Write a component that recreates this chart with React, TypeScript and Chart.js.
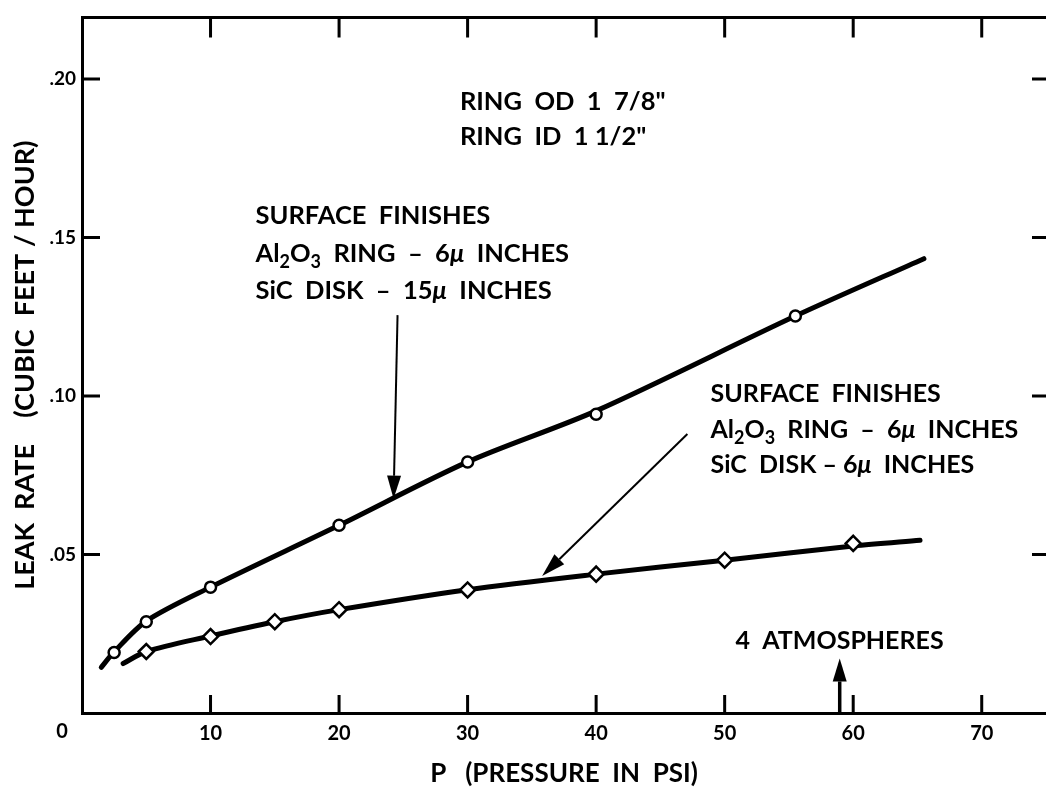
import React, { useEffect, useRef } from 'react';
import { Chart, registerables } from 'chart.js';

Chart.register(...registerables);

// ---- data ----
const pressureTicks = [10, 20, 30, 40, 50, 60, 70];
const pressureTickLabels = ['10', '20', '30', '40', '50', '60', '70'];
const leakTicks = [0.05, 0.1, 0.15, 0.2];
const leakTickLabels = ['.05', '.10', '.15', '.20'];

// Al2O3 ring 6µ / SiC disk 15µ  (circles) — measured points
const circlePressure = [2.5, 5, 10, 20, 30, 40, 55.5];
const circleLeak = [0.0191, 0.0288, 0.0397, 0.0592, 0.0792, 0.0942, 0.1252];
// hand-faired curve drawn through them
const circleCurvePressure = [1.5, 2.5, 5, 10, 20, 30, 40, 55.5, 65.5];
const circleCurveLeak = [0.0144, 0.0193, 0.029, 0.0397, 0.0592, 0.0792, 0.0953, 0.1252, 0.1433];

// Al2O3 ring 6µ / SiC disk 6µ  (diamonds) — measured points
const diamondPressure = [5, 10, 15, 20, 30, 40, 50, 60];
const diamondLeak = [0.0194, 0.0241, 0.0288, 0.0326, 0.0388, 0.0438, 0.0482, 0.0535];
// hand-faired curve
const diamondCurvePressure = [3.2, 5, 10, 15, 20, 30, 40, 50, 60, 65.2];
const diamondCurveLeak = [0.0156, 0.0194, 0.0243, 0.0288, 0.0326, 0.0389, 0.0438, 0.0482, 0.0527, 0.0545];

const FONT = 'Lato, "DejaVu Sans", sans-serif';

type Seg = { t: string; sub?: boolean; italic?: boolean };

const ringText: Seg[][] = [
  [{ t: 'RING  OD  1  7/8"' }],
  [{ t: 'RING  ID  1 1/2"' }],
];
const leftNote: Seg[][] = [
  [{ t: 'SURFACE  FINISHES' }],
  [{ t: 'Al' }, { t: '2', sub: true }, { t: 'O' }, { t: '3', sub: true }, { t: '  RING  –  6' }, { t: 'μ', italic: true }, { t: '  INCHES' }],
  [{ t: 'SiC  DISK  –  15' }, { t: 'μ', italic: true }, { t: '  INCHES' }],
];
const rightNote: Seg[][] = [
  [{ t: 'SURFACE  FINISHES' }],
  [{ t: 'Al' }, { t: '2', sub: true }, { t: 'O' }, { t: '3', sub: true }, { t: '  RING  –  6' }, { t: 'μ', italic: true }, { t: '  INCHES' }],
  [{ t: 'SiC  DISK – 6' }, { t: 'μ', italic: true }, { t: '  INCHES' }],
];
const atmText: Seg[][] = [[{ t: '4  ATMOSPHERES' }]];

function drawRich(ctx: CanvasRenderingContext2D, x: number, y: number, segs: Seg[], size: number) {
  let cx = x;
  for (const s of segs) {
    const fs = s.sub ? Math.round(size * 0.72) : size;
    ctx.font = `${s.italic ? 'italic ' : ''}bold ${fs}px ${FONT}`;
    ctx.textBaseline = 'middle';
    ctx.textAlign = 'left';
    ctx.fillText(s.t, cx, s.sub ? y + size * 0.35 : y);
    cx += ctx.measureText(s.t).width;
  }
}

function drawArrow(ctx: CanvasRenderingContext2D, x1: number, y1: number, x2: number, y2: number, lw: number, hl: number, hw: number) {
  const ang = Math.atan2(y2 - y1, x2 - x1);
  const bx = x2 - Math.cos(ang) * hl;
  const by = y2 - Math.sin(ang) * hl;
  ctx.lineWidth = lw;
  ctx.beginPath();
  ctx.moveTo(x1, y1);
  ctx.lineTo(bx, by);
  ctx.stroke();
  ctx.beginPath();
  ctx.moveTo(x2, y2);
  ctx.lineTo(bx + Math.sin(ang) * hw, by - Math.cos(ang) * hw);
  ctx.lineTo(bx - Math.sin(ang) * hw, by + Math.cos(ang) * hw);
  ctx.closePath();
  ctx.fill();
}

const decorPlugin = {
  id: 'decor',
  afterDraw(chart: any) {
    const { ctx, chartArea, scales } = chart;
    const xs = scales.x;
    const ys = scales.y;
    const X = (v: number) => xs.getPixelForValue(v);
    const Y = (v: number) => ys.getPixelForValue(v);
    ctx.save();
    ctx.strokeStyle = '#000';
    ctx.fillStyle = '#000';
    ctx.lineCap = 'butt';
    // top frame line
    ctx.lineWidth = 3;
    ctx.beginPath();
    ctx.moveTo(chartArea.left - 1, chartArea.top);
    ctx.lineTo(chartArea.right, chartArea.top);
    ctx.stroke();
    // inward tick marks on four sides
    for (const v of pressureTicks) {
      const px = X(v);
      ctx.beginPath();
      ctx.moveTo(px, chartArea.bottom);
      ctx.lineTo(px, chartArea.bottom - 18);
      ctx.moveTo(px, chartArea.top);
      ctx.lineTo(px, chartArea.top + 20);
      ctx.stroke();
    }
    for (const v of leakTicks) {
      const py = Y(v);
      ctx.beginPath();
      ctx.moveTo(chartArea.left, py);
      ctx.lineTo(chartArea.left + 18, py);
      ctx.moveTo(chartArea.right, py);
      ctx.lineTo(chartArea.right - 14, py);
      ctx.stroke();
    }
    // origin label
    ctx.font = `bold 20px ${FONT}`;
    ctx.textAlign = 'center';
    ctx.textBaseline = 'middle';
    ctx.fillText('0', chartArea.left - 20, chartArea.bottom + 19);

    // notes
    ringText.forEach((l, i) => drawRich(ctx, X(29.4), Y(0.1928) + i * 35, l, 25.5));
    leftNote.forEach((l, i) => drawRich(ctx, X(13.5), Y(0.1568) + i * 37.5, l, 25.5));
    rightNote.forEach((l, i) => drawRich(ctx, X(48.9), Y(0.1005) + i * 35.5, l, 25));
    atmText.forEach((l, i) => drawRich(ctx, X(50.85), Y(0.0228) + i * 35, l, 25));

    // arrows
    drawArrow(ctx, X(24.55), Y(0.1255), X(24.24), Y(0.0676), 2, 23, 7);
    drawArrow(ctx, X(47.1), Y(0.088), X(35.8), Y(0.0432), 2, 24, 7);
    drawArrow(ctx, X(58.95), Y(0), X(58.95), Y(0.0172), 3.5, 23, 7);
    ctx.restore();
  },
};

export default function App() {
  const ref = useRef<HTMLCanvasElement | null>(null);
  useEffect(() => {
    if (!ref.current) return;
    const curve = (px: number[], ly: number[]) => ({
      data: px.map((p, i) => ({ x: p, y: ly[i] })),
      borderColor: '#000',
      borderWidth: 5,
      borderCapStyle: 'round',
      borderJoinStyle: 'round',
      tension: 0.3,
      pointRadius: 0,
      fill: false,
      order: 2,
    });
    const marks = (px: number[], ly: number[], style: string, r: number) => ({
      data: px.map((p, i) => ({ x: p, y: ly[i] })),
      showLine: false,
      pointStyle: style,
      pointRadius: r,
      pointBackgroundColor: '#fff',
      pointBorderColor: '#000',
      pointBorderWidth: 2.5,
      order: 1,
    });
    const chart = new Chart(ref.current, {
      type: 'line',
      data: {
        datasets: [
          { label: 'curve 15µ', ...curve(circleCurvePressure, circleCurveLeak) },
          { label: 'curve 6µ', ...curve(diamondCurvePressure, diamondCurveLeak) },
          { label: 'Al2O3 ring 6µ / SiC disk 15µ', ...marks(circlePressure, circleLeak, 'circle', 5.5) },
          { label: 'Al2O3 ring 6µ / SiC disk 6µ', ...marks(diamondPressure, diamondLeak, 'rectRot', 7.5) },
        ],
      },
      options: {
        animation: false,
        responsive: false,
        events: [],
        layout: { autoPadding: false, padding: { top: 12, right: 0, left: 0, bottom: 0 } },
        plugins: { legend: { display: false }, tooltip: { enabled: false } },
        scales: {
          x: {
            type: 'linear',
            min: 0,
            max: 75,
            afterFit: (s: any) => { s.height = 76; },
            afterBuildTicks: (s: any) => { s.ticks = pressureTicks.map((v) => ({ value: v })); },
            grid: { display: false, drawTicks: false },
            border: { display: true, color: '#000', width: 3 },
            ticks: {
              color: '#000',
              padding: 9,
              font: { family: FONT, size: 20, weight: 'bold' },
              callback: (v: any) => pressureTickLabels[pressureTicks.indexOf(Number(v))] ?? '',
            },
            title: {
              display: true,
              text: 'P   (PRESSURE  IN  PSI)',
              color: '#000',
              font: { family: FONT, size: 26, weight: 'bold' },
              padding: { top: 0, bottom: 0 },
            },
          },
          y: {
            type: 'linear',
            min: 0,
            max: 0.2194,
            afterFit: (s: any) => { s.width = 82; },
            afterBuildTicks: (s: any) => { s.ticks = leakTicks.map((v) => ({ value: v })); },
            grid: { display: false, drawTicks: false },
            border: { display: true, color: '#000', width: 3 },
            ticks: {
              color: '#000',
              padding: 6,
              font: { family: FONT, size: 19, weight: 'bold' },
              callback: (v: any) => {
                const i = leakTicks.findIndex((t) => Math.abs(t - Number(v)) < 1e-9);
                return i >= 0 ? leakTickLabels[i] : '';
              },
            },
            title: {
              display: true,
              text: 'LEAK  RATE    (CUBIC  FEET / HOUR)',
              color: '#000',
              font: { family: FONT, size: 27, weight: 'bold' },
              padding: { top: 9, bottom: 0 },
            },
          },
        },
      },
      plugins: [decorPlugin],
    } as any);
    return () => chart.destroy();
  }, []);

  return (
    <div style={{ position: 'fixed', left: 0, top: 0, width: 1046, height: 789, background: '#fff' }}>
      <canvas ref={ref} width={1046} height={789} style={{ display: 'block' }} />
    </div>
  );
}
